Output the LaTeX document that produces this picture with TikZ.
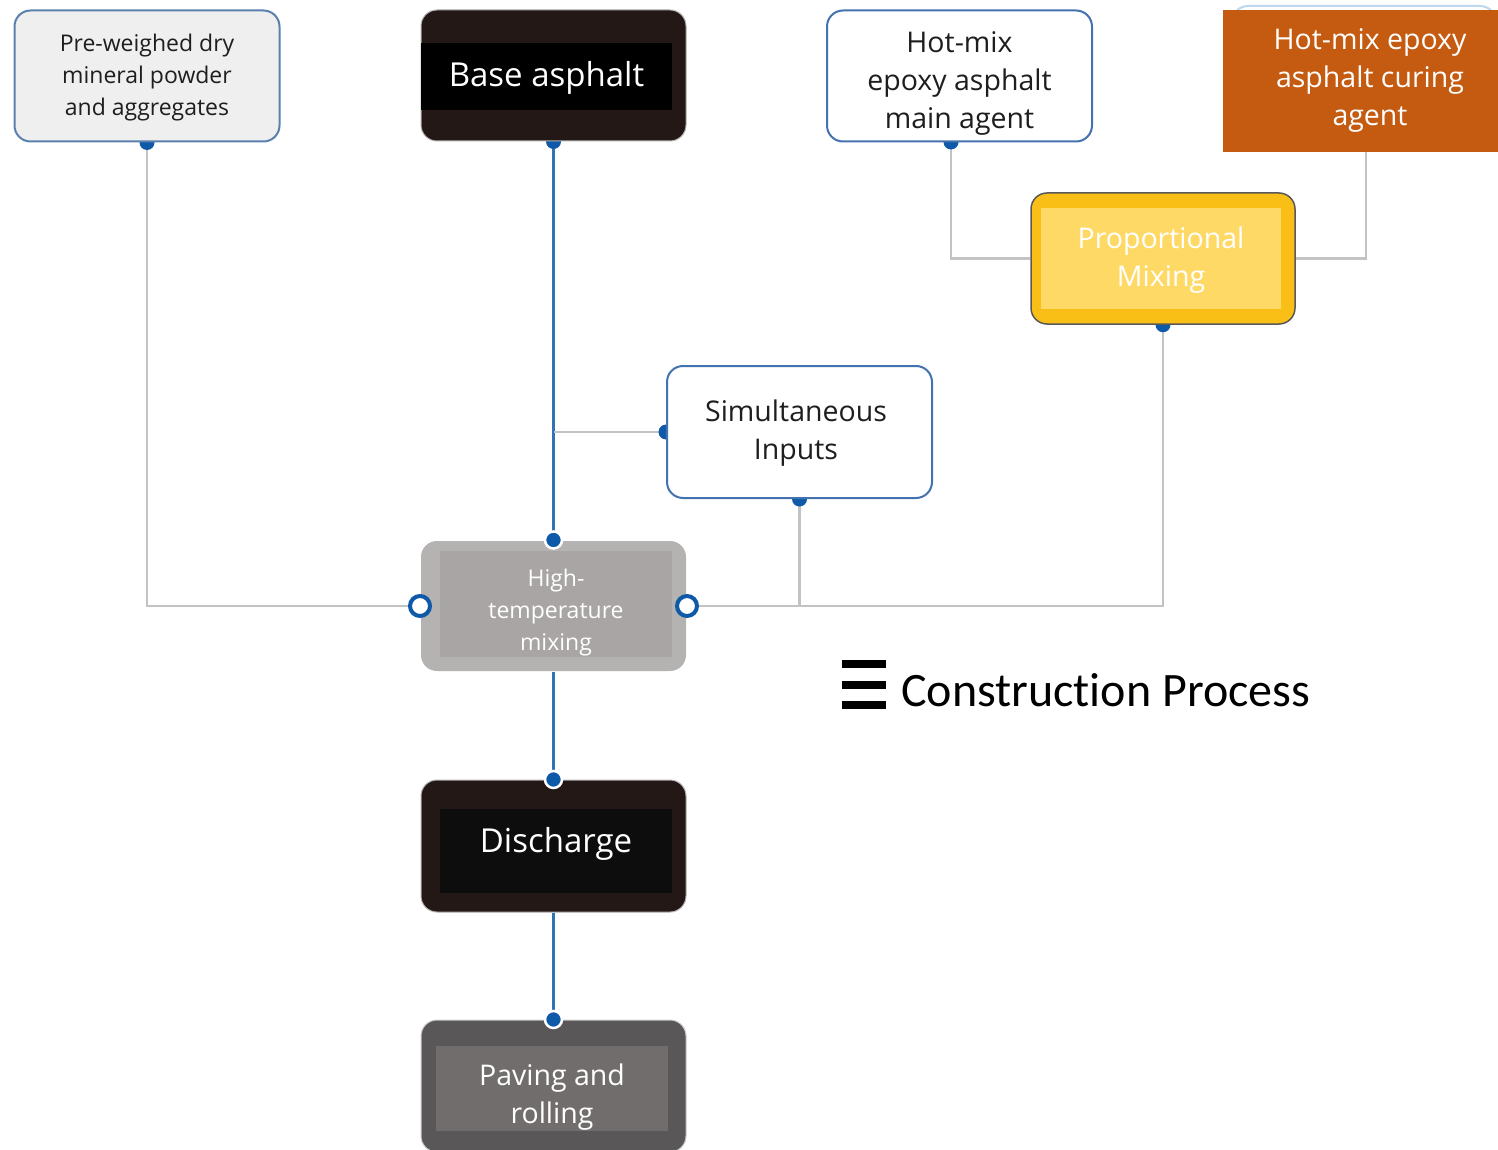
\documentclass[tikz,border=0pt]{standalone}
\usepackage{fontspec}
\setmainfont{Open Sans}
\newfontfamily\calib[Ligatures=NoCommon]{Carlito}
\usetikzlibrary{backgrounds,calc}
\definecolor{bordA}{HTML}{5A80AE}
\definecolor{bordB}{HTML}{4472B0}
\definecolor{preFill}{HTML}{EFEFEF}
\definecolor{darkbox}{HTML}{231815}
\definecolor{orangeC}{HTML}{C55A11}
\definecolor{yelOut}{HTML}{F9BF16}
\definecolor{yelIn}{HTML}{FFD966}
\definecolor{htOut}{HTML}{B5B3B2}
\definecolor{htIn}{HTML}{A8A5A4}
\definecolor{pavOut}{HTML}{595757}
\definecolor{pavIn}{HTML}{716D6C}
\definecolor{glineC}{HTML}{C3C3C3}
\definecolor{blineC}{HTML}{2E75B6}
\definecolor{dotC}{HTML}{0F5AA8}
\definecolor{ghost}{HTML}{BDD7EE}
\definecolor{txtC}{HTML}{1E1E1E}
\begin{document}
\begin{tikzpicture}[x=1pt,y=-1pt,
  box/.style={rounded corners=16pt, minimum width=265pt, minimum height=131pt,
    line width=2pt, inner sep=0pt},
  panel/.style={minimum width=232pt, inner sep=0pt},
  txt/.style={align=center, inner sep=0pt},
  gline/.style={draw=glineC, line width=2.5pt},
  bline/.style={draw=blineC, line width=2.5pt},
  dot/.style={fill=dotC, draw=none},
  ringdot/.style={fill=dotC, draw=white, line width=2.5pt},
  opendot/.style={fill=white, draw=dotC, line width=4pt},
  fsS/.style={font=\fontsize{23}{32}\selectfont},
  fsM/.style={font=\fontsize{28.5}{38}\selectfont},
  fsL/.style={font=\fontsize{33}{40}\selectfont}
]
\useasboundingbox (0,0) rectangle (1498,1150);

% ghost box behind the orange one
\draw[ghost, line width=2pt, rounded corners=16pt] (1232,6) rectangle (1496,138);

% boxes
\node[box, draw=bordA, fill=preFill] (pre) at (147,76) {};
\node[txt, fsS, text=txtC] (preT) at (147,77.5) {Pre-weighed dry\\mineral powder\\and aggregates};

\node[box, draw=gray!60, line width=1pt, fill=darkbox] (base) at (553.5,75.5) {};
\node[panel, fill=black, minimum width=251pt, minimum height=67pt] (baseP) at (546.5,76.5) {};
\node[txt, fsL, text=white] (baseT) at (546.5,78) {Base asphalt};

\node[box, draw=bordB, fill=white] (main) at (959.5,76) {};
\node[txt, fsM, text=txtC] (mainT) at (959.5,83) {Hot-mix\\epoxy asphalt\\main agent};

\node[fill=orangeC, minimum width=275pt, minimum height=142pt, inner sep=0pt] (cur) at (1360.5,81) {};
\node[txt, fsM, text=white] (curT) at (1370,80) {Hot-mix epoxy\\asphalt curing\\agent};

\node[box, draw=gray!70!black, line width=1.5pt, fill=yelOut, minimum width=264pt] (prop) at (1163,258.5) {};
\node[panel, fill=yelIn, minimum width=240pt, minimum height=101pt] (propP) at (1161,258.5) {};
\node[txt, fsM, text=white] (propT) at (1161,260) {Proportional\\Mixing};

\node[box, draw=bordB, fill=white, minimum height=132pt] (sim) at (799.5,432) {};
\node[txt, fsM, text=txtC] (simT) at (796,433.5) {Simultaneous\\Inputs};

\node[box, draw=none, fill=htOut, minimum height=130pt] (ht) at (553.5,606) {};
\node[panel, fill=htIn, minimum height=106pt] (htP) at (556,604) {};
\node[txt, fsS, text=white] (htT) at (556,612.5) {High-\\temperature\\mixing};

\node[box, draw=gray!60, line width=1pt, fill=darkbox, minimum height=132pt] (dis) at (553.5,846) {};
\node[panel, fill=black!95, minimum height=84pt] (disP) at (556,851) {};
\node[txt, fsL, text=white] (disT) at (556,844) {Discharge};

\node[box, draw=gray!40, line width=1pt, fill=pavOut, minimum height=132pt] (pav) at (553.5,1086) {};
\node[panel, fill=pavIn, minimum height=85pt] (pavP) at (552,1088.5) {};
\node[txt, fsM, text=white] (pavT) at (552,1097) {Paving and\\rolling};

\coordinate (mainOut) at (951,142);
\coordinate (curOut) at (1366,152);

% connectors
\begin{pgfonlayer}{background}
  \fill[white] (0,0) rectangle (1498,1150);
  \draw[gline] (pre.south) |- (ht.west);
  \draw[bline] (base.south) -- (ht.north);
  \draw[gline] (sim.west) -- (sim.west -| base.south);
  \draw[gline] (sim.south) -- (sim.south |- ht.east);
  \draw[gline] (ht.east) -| (prop.south);
  \draw[gline] (mainOut) |- (prop.west);
  \draw[gline] (curOut) |- (prop.east);
  \draw[bline] (ht.south) -- (dis.north);
  \draw[bline] (dis.south) -- (pav.north);
  \fill[dot] (pre.south) circle (7.5);
  \fill[dot] (base.south) circle (7.5);
  \fill[dot] (mainOut) circle (7.5);
  \fill[dot] (prop.south) circle (7.5);
  \fill[dot] (sim.south) circle (7.5);
  \fill[dot] (sim.west) circle (7.5);
\end{pgfonlayer}
\filldraw[ringdot] (ht.north) circle (8.5);
\filldraw[ringdot] (dis.north) circle (8.5);
\filldraw[ringdot] (pav.north) circle (8.5);
\filldraw[opendot] (ht.west) circle (10);
\filldraw[opendot] (ht.east) circle (10);

% legend
\fill[black] (842,660) rectangle (886,668);
\fill[black] (842,681) rectangle (886,689);
\fill[black] (842,701) rectangle (886,709);
\node[anchor=west, inner sep=0pt, font=\calib\fontsize{48}{54}\selectfont] (cp) at (901,690) {Construction Process};
\end{tikzpicture}
\end{document}
